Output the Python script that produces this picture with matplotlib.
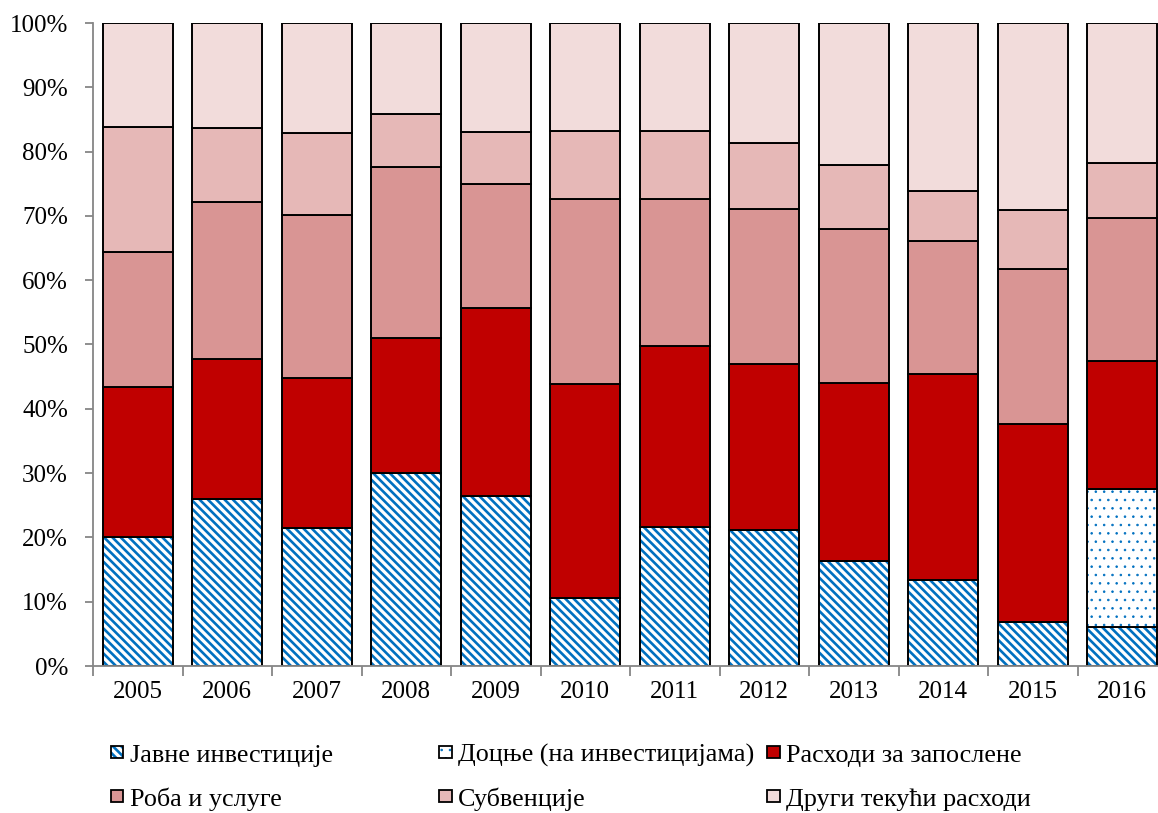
import matplotlib
matplotlib.use("Agg")
import matplotlib.pyplot as plt
import numpy as np
from matplotlib.patches import Rectangle

plt.rcParams['font.family'] = ['Liberation Serif', 'DejaVu Serif']

years = ['2005', '2006', '2007', '2008', '2009', '2010',
         '2011', '2012', '2013', '2014', '2015', '2016']

# shares of total spending, in percent
javne_investicije = [20.1, 26.0, 21.5, 30.0, 26.5, 10.6, 21.6, 21.1, 16.3, 13.4, 6.9, 6.1]
docnje = [0, 0, 0, 0, 0, 0, 0, 0, 0, 0, 0, 21.4]
rashodi_zaposleni = [23.3, 21.7, 23.3, 21.0, 29.2, 33.3, 28.2, 25.9, 27.7, 32.0, 30.7, 19.9]
roba_usluge = [21.0, 24.5, 25.4, 26.6, 19.3, 28.8, 22.9, 24.0, 23.9, 20.7, 24.2, 22.3]
subvencije = [19.4, 11.4, 12.7, 8.3, 8.0, 10.5, 10.5, 10.4, 10.0, 7.8, 9.1, 8.6]
drugi_tekuci = [16.2, 16.4, 17.1, 14.1, 17.0, 16.8, 16.8, 18.6, 22.1, 26.1, 29.1, 21.7]

labels = ['Јавне инвестиције', 'Доцње (на инвестицијама)', 'Расходи за запослене',
          'Роба и услуге', 'Субвенције', 'Други текући расходи']

BLUE = '#0070C0'
RED = '#C00000'
ROBA = '#D99594'
SUB = '#E6B8B7'
OTHER = '#F2DCDB'
EDGE_LW = 1.4
STRIPES = '\\\\\\\\'
DOTS = '..'
W, H = 1158, 813

fig = plt.figure(figsize=(W / 100, H / 100), dpi=100)
ax = fig.add_axes([93 / W, 147 / H, 1074 / W, 643 / H])

x = np.arange(len(years))
width = 0.78
bottom = np.zeros(len(years))


def hatched(vals, hatch, hlw):
    plt.rcParams['hatch.linewidth'] = hlw
    vals = np.asarray(vals, dtype=float)
    ax.bar(x, vals, width, bottom=bottom, color='white', edgecolor=BLUE,
           hatch=hatch, linewidth=0)
    mask = vals > 0
    ax.bar(x[mask], vals[mask], width, bottom=bottom[mask], facecolor='none',
           edgecolor='black', linewidth=EDGE_LW)
    return bottom + vals


def solid(vals, color):
    vals = np.asarray(vals, dtype=float)
    ax.bar(x, vals, width, bottom=bottom, color=color, edgecolor='black',
           linewidth=EDGE_LW)
    return bottom + vals


bottom = hatched(javne_investicije, STRIPES, 1.9)
bottom = hatched(docnje, DOTS, 0.6)
bottom = solid(rashodi_zaposleni, RED)
bottom = solid(roba_usluge, ROBA)
bottom = solid(subvencije, SUB)
bottom = solid(drugi_tekuci, OTHER)

ax.set_xlim(-0.5, len(years) - 0.5)
ax.set_ylim(0, 100)
ax.set_yticks(np.arange(0, 101, 10))
ax.set_yticklabels([f'{v}%' for v in range(0, 101, 10)])
ax.set_xticks(x)
ax.set_xticklabels(years)
ax.set_xticks(np.arange(-0.5, len(years), 1), minor=True)

for s in ['top', 'right']:
    ax.spines[s].set_visible(False)
for s in ['left', 'bottom']:
    ax.spines[s].set_color('#868686')
    ax.spines[s].set_linewidth(1.3)

ax.tick_params(axis='x', which='major', length=0, pad=11, labelsize=18)
ax.tick_params(axis='x', which='minor', length=7, width=1.3, color='#868686')
ax.tick_params(axis='y', which='major', length=6, width=1.3, color='#868686',
               pad=12, labelsize=18)

# legend: three equal-width columns, two rows
entries = [
    (labels[0], dict(facecolor='white', hatch=STRIPES, hlw=1.9)),
    (labels[1], dict(facecolor='white', hatch=DOTS, hlw=0.6)),
    (labels[2], dict(facecolor=RED)),
    (labels[3], dict(facecolor=ROBA)),
    (labels[4], dict(facecolor=SUB)),
    (labels[5], dict(facecolor=OTHER)),
]
col_x = [111, 439, 767]
row_base = [762, 806]
box = 12.5
for i, (text, style) in enumerate(entries):
    cx = col_x[i % 3]
    by = row_base[i // 3]
    y0 = (H - by + 4) / H
    if 'hatch' in style:
        plt.rcParams['hatch.linewidth'] = style['hlw']
        fig.patches.append(Rectangle((cx / W, y0), box / W, box / H,
                                     transform=fig.transFigure, facecolor='white',
                                     edgecolor=BLUE, hatch=style['hatch'],
                                     linewidth=0))
        fig.patches.append(Rectangle((cx / W, y0), box / W, box / H,
                                     transform=fig.transFigure, facecolor='none',
                                     edgecolor='black', linewidth=1.3))
    else:
        fig.patches.append(Rectangle((cx / W, y0), box / W, box / H,
                                     transform=fig.transFigure,
                                     facecolor=style['facecolor'],
                                     edgecolor='black', linewidth=1.3))
    fig.text((cx + 19) / W, (H - by) / H, text, fontsize=18.8,
             ha='left', va='baseline')

fig.savefig('out.png', dpi=100)
